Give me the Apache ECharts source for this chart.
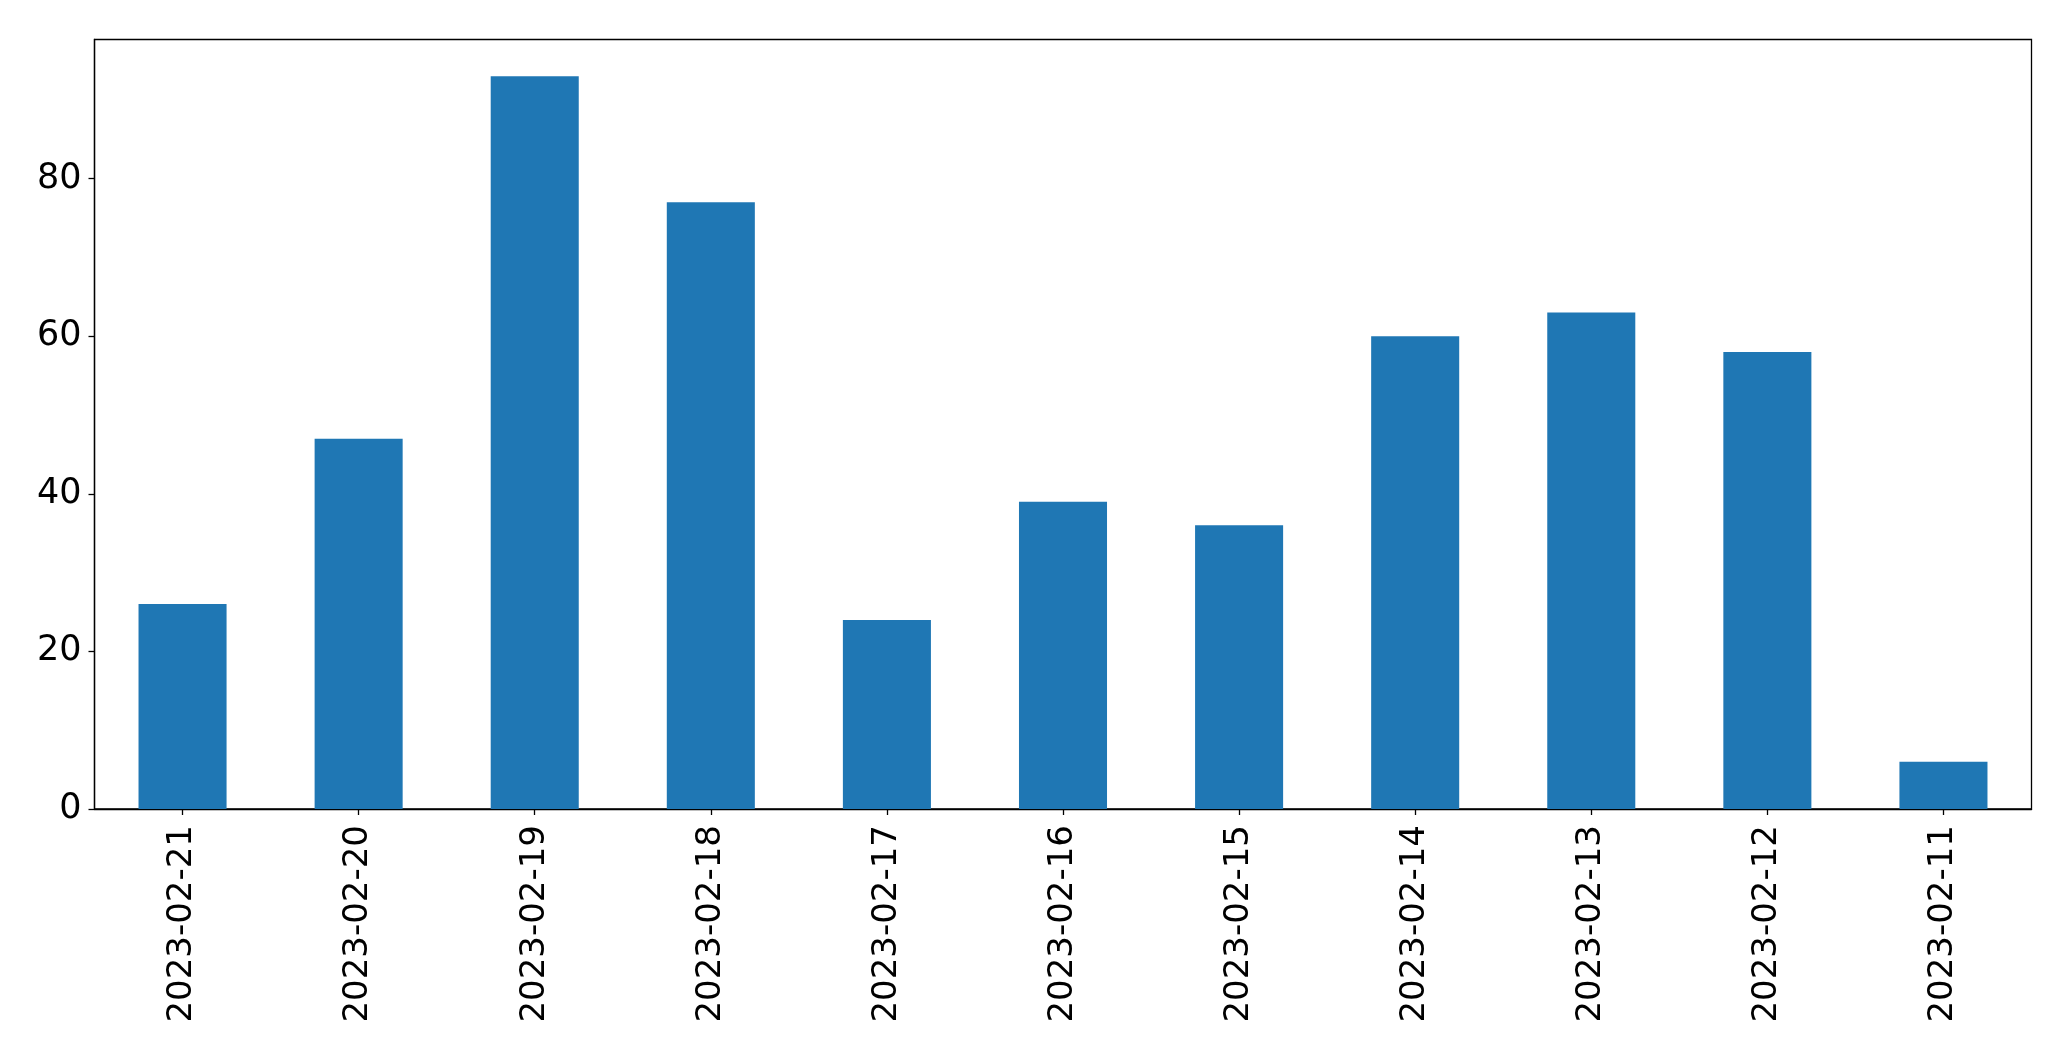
<!DOCTYPE html>
<html>
<head>
<meta charset="utf-8">
<script src="https://cdn.jsdelivr.net/npm/echarts@6/dist/echarts.min.js"></script>
<style>
html,body{margin:0;padding:0;background:#fff;}
#chart{width:2071px;height:1061px;}
</style>
</head>
<body>
<div id="chart"></div>
<script>
const categories = ["2023-02-21","2023-02-20","2023-02-19","2023-02-18","2023-02-17","2023-02-16","2023-02-15","2023-02-14","2023-02-13","2023-02-12","2023-02-11"];
const values = [26, 47, 93, 77, 24, 39, 36, 60, 63, 58, 6];
const yTicks = [0, 20, 40, 60, 80];

const chart = echarts.init(document.getElementById('chart'), null, {renderer: 'canvas'});
const font = '"DejaVu Sans", sans-serif';
chart.setOption({
  animation: false,
  backgroundColor: '#ffffff',
  grid: {
    left: 94.5, right: 39.5, top: 39.5, bottom: 252,
    show: true, borderColor: '#000', borderWidth: 1.3, backgroundColor: 'transparent'
  },
  xAxis: {
    type: 'category',
    data: categories,
    boundaryGap: true,
    axisLine: {show: true, lineStyle: {color: '#000', width: 1.3}},
    axisTick: {show: true, alignWithLabel: true, length: 6, lineStyle: {color: '#000', width: 1.3}},
    axisLabel: {rotate: 90, margin: 16, color: '#000', fontSize: 34, fontFamily: font, interval: 0},
    splitLine: {show: false}
  },
  yAxis: {
    type: 'value',
    min: 0,
    max: 97.65,
    interval: 20,
    axisLine: {show: true, lineStyle: {color: '#000', width: 1.3}},
    axisTick: {show: true, length: 6, customValues: yTicks, lineStyle: {color: '#000', width: 1.3}},
    axisLabel: {
      margin: 13, color: '#000', fontSize: 35, fontFamily: font,
      customValues: yTicks
    },
    splitLine: {show: false}
  },
  series: [{
    type: 'bar',
    data: values,
    barWidth: '50%',
    itemStyle: {color: '#1f77b4'}
  }]
});
</script>
</body>
</html>
